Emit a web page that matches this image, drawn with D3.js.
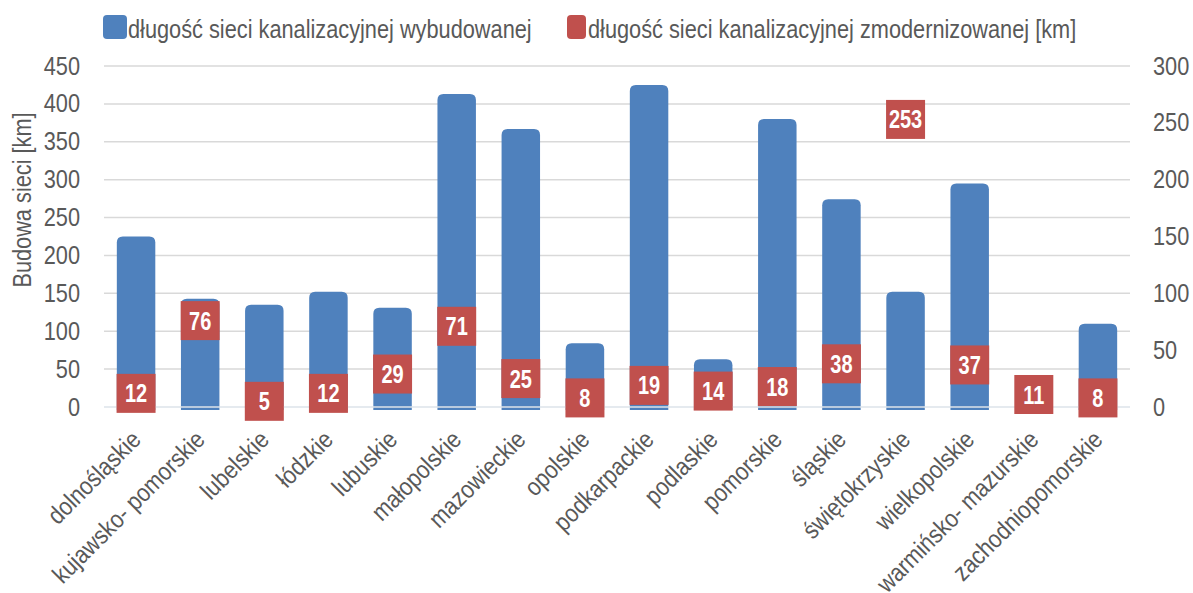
<!DOCTYPE html>
<html>
<head>
<meta charset="utf-8">
<script src="https://cdn.jsdelivr.net/npm/d3@7"></script>
<style>
  html, body { margin: 0; padding: 0; background: #fff; }
  svg { display: block; }
  text { font-family: "Liberation Sans", Arial, sans-serif; }
</style>
</head>
<body>
<svg id="chart" width="1193" height="593"></svg>
<script>
// Województwa
const categories = [
  "dolnośląskie", "kujawsko- pomorskie", "lubelskie", "łódzkie", "lubuskie",
  "małopolskie", "mazowieckie", "opolskie", "podkarpackie", "podlaskie",
  "pomorskie", "śląskie", "świętokrzyskie", "wielkopolskie",
  "warmińsko- mazurskie", "zachodniopomorskie"
];
// długość sieci kanalizacyjnej wybudowanej [km] (oś lewa)
const built = [225, 143, 135, 152, 131, 413, 367, 84, 425, 63, 380, 274, 152, 295, 0, 110];
// długość sieci kanalizacyjnej zmodernizowanej [km] (oś prawa)
const modernized = [12, 76, 5, 12, 29, 71, 25, 8, 19, 14, 18, 38, 253, 37, 11, 8];

const leftTicks = [0, 50, 100, 150, 200, 250, 300, 350, 400, 450];
const rightTicks = [0, 50, 100, 150, 200, 250, 300];

const legendLabels = [
  "długość sieci kanalizacyjnej wybudowanej",
  "długość sieci kanalizacyjnej zmodernizowanej [km]"
];
const yTitle = "Budowa sieci [km]";

const BLUE = "#4f81bd", RED = "#c0504d", GRID = "#d9d9d9", TXT = "#595959";
const NARROW = "scale(0.87,1)";

const svg = d3.select("#chart");
const plot = { left: 104, right: 1130, top: 66, bottom: 407 };

const x = d3.scaleBand().domain(categories).range([plot.left, plot.right]).paddingInner(0.4).paddingOuter(0.2);
const yL = d3.scaleLinear().domain([0, 450]).range([plot.bottom, plot.top]);
const yR = d3.scaleLinear().domain([0, 300]).range([plot.bottom, plot.top]);

// gridlines
svg.append("g")
  .selectAll("line").data(leftTicks.filter(d => d > 0)).join("line")
  .attr("x1", plot.left).attr("x2", plot.right)
  .attr("y1", d => yL(d)).attr("y2", d => yL(d))
  .attr("stroke", GRID).attr("stroke-width", 1.5);

// left axis
const axL = svg.append("g").attr("transform", `translate(${plot.left - 24},0)`)
  .call(d3.axisLeft(yL).tickValues(leftTicks).tickSize(0).tickPadding(0));
axL.select(".domain").remove();
axL.selectAll("text").attr("fill", TXT).attr("transform", NARROW)
  .style("font-size", "25px").style("font-family", '"Liberation Sans", Arial, sans-serif');

// right axis
const axR = svg.append("g").attr("transform", `translate(${plot.right + 23},0)`)
  .call(d3.axisRight(yR).tickValues(rightTicks).tickSize(0).tickPadding(0));
axR.select(".domain").remove();
axR.selectAll("text").attr("fill", TXT).attr("transform", NARROW)
  .style("font-size", "25px").style("font-family", '"Liberation Sans", Arial, sans-serif');

// bars with rounded top corners
const r = 6;
function barPath(i) {
  const x0 = x(categories[i]), w = x.bandwidth();
  const yt = yL(built[i]), yb = yL(0) + 3;
  if (built[i] <= 0) return "";
  const rr = Math.min(r, (yb - yt) / 2);
  return `M${x0},${yb} L${x0},${yt + rr} Q${x0},${yt} ${x0 + rr},${yt} L${x0 + w - rr},${yt} Q${x0 + w},${yt} ${x0 + w},${yt + rr} L${x0 + w},${yb} Z`;
}
svg.append("g").selectAll("path").data(categories).join("path")
  .attr("d", (d, i) => barPath(i))
  .attr("fill", BLUE);

// zero line
svg.append("line")
  .attr("x1", plot.left).attr("x2", plot.right)
  .attr("y1", yL(0)).attr("y2", yL(0))
  .attr("stroke", "#dde3ea").attr("stroke-width", 1.5);

// modernized network: value labels on the right axis
const box = 39;
const lab = svg.append("g").selectAll("g").data(modernized).join("g")
  .attr("transform", (d, i) => `translate(${x(categories[i]) + x.bandwidth() / 2},${yR(d)})`);
lab.append("rect")
  .attr("x", -box / 2).attr("y", -box / 2).attr("width", box).attr("height", box)
  .attr("fill", RED);
lab.append("text")
  .attr("transform", "scale(0.8,1)")
  .attr("text-anchor", "middle").attr("dy", "0.36em")
  .attr("fill", "#fff").style("font-size", "25px").style("font-weight", "bold")
  .text(d => d);

// category labels
svg.append("g").selectAll("text").data(categories).join("text")
  .attr("transform", d => `translate(${x(d) + x.bandwidth() / 2},${plot.bottom + 28}) rotate(-45) ${NARROW}`)
  .attr("text-anchor", "end").attr("dy", "0.35em")
  .attr("fill", TXT).style("font-size", "25px")
  .text(d => d);

// y axis title
svg.append("text")
  .attr("transform", `translate(31,200) rotate(-90) scale(0.87,1)`)
  .attr("text-anchor", "middle")
  .attr("fill", TXT).style("font-size", "25px")
  .text(yTitle);

// legend
const legendItems = [
  { label: legendLabels[0], color: BLUE, x: 103, w: 24, tx: 128 },
  { label: legendLabels[1], color: RED, x: 567, w: 19, tx: 588 }
];
const lg = svg.append("g").selectAll("g").data(legendItems).join("g");
lg.append("rect").attr("x", d => d.x).attr("y", 15).attr("width", d => d.w).attr("height", 24)
  .attr("rx", 4).attr("fill", d => d.color);
lg.append("text")
  .attr("transform", d => `translate(${d.tx},38) ${NARROW}`)
  .attr("fill", TXT).style("font-size", "25px").text(d => d.label);
</script>
</body>
</html>
